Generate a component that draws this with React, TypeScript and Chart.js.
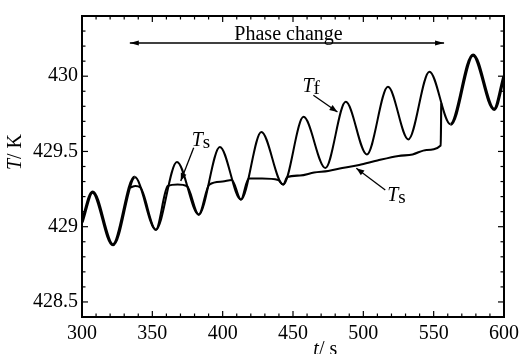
import React, { useEffect, useRef } from 'react';
import { Chart, registerables } from 'chart.js';
Chart.register(...registerables);

// Fluid temperature Tf (peaks and troughs)
const tfTime = [300, 307.5, 322, 337.5, 352.5, 367.5, 383, 398, 413, 427.5, 443, 457.5, 473, 487.5, 502.5, 517.5, 532, 547, 562, 578, 593, 600];
const tfTemp = [429.03, 429.23, 428.88, 429.33, 428.98, 429.43, 429.08, 429.53, 429.18, 429.63, 429.28, 429.73, 429.39, 429.83, 429.48, 429.93, 429.58, 430.03, 429.68, 430.14, 429.78, 430.0];

// Solid temperature Ts during phase change
const tsTime = [334, 338, 341.5, 352.5, 361, 368, 374.5, 383, 390.5, 400, 406.5, 413, 418.5, 428, 439.5, 443, 446, 455, 465, 475, 485, 497, 510, 525, 535, 545, 555, 555.4];
const tsTemp = [429.26, 429.27, 429.26, 428.98, 429.27, 429.28, 429.27, 429.08, 429.28, 429.3, 429.31, 429.18, 429.32, 429.32, 429.31, 429.28, 429.33, 429.34, 429.36, 429.37, 429.39, 429.41, 429.44, 429.47, 429.48, 429.51, 429.54, 429.82];

const xTickValues = [300, 350, 400, 450, 500, 550, 600];
const yTickValues = [428.5, 429, 429.5, 430];

const SERIF = '"Liberation Serif", "DejaVu Serif", serif';

function arrowHead(ctx: CanvasRenderingContext2D, x1: number, y1: number, x2: number, y2: number, len: number, hw: number) {
  const a = Math.atan2(y2 - y1, x2 - x1);
  const bx = x2 - len * Math.cos(a);
  const by = y2 - len * Math.sin(a);
  const px = -Math.sin(a) * hw;
  const py = Math.cos(a) * hw;
  ctx.beginPath();
  ctx.moveTo(x2, y2);
  ctx.lineTo(bx + px, by + py);
  ctx.lineTo(bx - px, by - py);
  ctx.closePath();
  ctx.fill();
}

function line(ctx: CanvasRenderingContext2D, x1: number, y1: number, x2: number, y2: number) {
  ctx.beginPath();
  ctx.moveTo(x1, y1);
  ctx.lineTo(x2, y2);
  ctx.stroke();
}

function subLabel(ctx: CanvasRenderingContext2D, x: number, y: number, main: string, sub: string) {
  ctx.textAlign = 'left';
  ctx.textBaseline = 'alphabetic';
  ctx.font = `italic 20px ${SERIF}`;
  ctx.fillText(main, x, y);
  const w = ctx.measureText(main).width;
  ctx.font = `19px ${SERIF}`;
  ctx.fillText(sub, x + w, y + 2);
}

const decorPlugin = {
  id: 'decor',
  afterDraw(chart: any) {
    const ctx: CanvasRenderingContext2D = chart.ctx;
    const xs = chart.scales.x;
    const ys = chart.scales.y;
    const { left, right, top, bottom } = chart.chartArea;
    ctx.save();
    ctx.strokeStyle = '#000';
    ctx.fillStyle = '#000';
    // frame
    ctx.lineWidth = 2;
    ctx.strokeRect(left, top, right - left, bottom - top);
    // inward ticks on all sides
    ctx.lineWidth = 1.2;
    for (let v = 300; v <= 600; v += 10) {
      const x = xs.getPixelForValue(v);
      const len = v % 50 === 0 ? 6 : 3.5;
      line(ctx, x, bottom, x, bottom - len);
      line(ctx, x, top, x, top + len);
    }
    for (let i = 0; i <= 20; i++) {
      const v = 428.4 + i * 0.1;
      const y = ys.getPixelForValue(v);
      const major = Math.abs(v * 2 - Math.round(v * 2)) < 1e-6;
      const len = major ? 6 : 3.5;
      line(ctx, left, y, left + len, y);
      line(ctx, right, y, right - len, y);
    }
    // Phase change arrow
    ctx.lineWidth = 1.6;
    const pa1 = xs.getPixelForValue(334);
    const pa2 = xs.getPixelForValue(557.4);
    const pay = ys.getPixelForValue(430.221);
    line(ctx, pa1, pay, pa2, pay);
    arrowHead(ctx, pa2, pay, pa1, pay, 9, 2.5);
    arrowHead(ctx, pa1, pay, pa2, pay, 9, 2.5);
    ctx.font = `20px ${SERIF}`;
    ctx.textAlign = 'center';
    ctx.textBaseline = 'alphabetic';
    ctx.fillText('Phase change', xs.getPixelForValue(446.8), ys.getPixelForValue(430.24));

    // Tf label
    subLabel(ctx, xs.getPixelForValue(456.7), ys.getPixelForValue(429.893), 'T', 'f');
    ctx.lineWidth = 1.3;
    let ax1 = xs.getPixelForValue(464.5), ay1 = ys.getPixelForValue(429.873);
    let ax2 = xs.getPixelForValue(481.6), ay2 = ys.getPixelForValue(429.762);
    line(ctx, ax1, ay1, ax2, ay2);
    arrowHead(ctx, ax1, ay1, ax2, ay2, 8, 3);

    // Ts label 1
    subLabel(ctx, xs.getPixelForValue(378.0), ys.getPixelForValue(429.538), 'T', 's');
    ax1 = xs.getPixelForValue(379.4); ay1 = ys.getPixelForValue(429.525);
    ax2 = xs.getPixelForValue(370.2); ay2 = ys.getPixelForValue(429.303);
    line(ctx, ax1, ay1, ax2, ay2);
    arrowHead(ctx, ax1, ay1, ax2, ay2, 8, 3);

    // Ts label 2
    subLabel(ctx, xs.getPixelForValue(517.0), ys.getPixelForValue(429.172), 'T', 's');
    ax1 = xs.getPixelForValue(515.6); ay1 = ys.getPixelForValue(429.244);
    ax2 = xs.getPixelForValue(495.0); ay2 = ys.getPixelForValue(429.389);
    line(ctx, ax1, ay1, ax2, ay2);
    arrowHead(ctx, ax1, ay1, ax2, ay2, 8, 3);

    // axis titles
    ctx.save();
    ctx.translate(21, 152);
    ctx.rotate(-Math.PI / 2);
    ctx.textBaseline = 'alphabetic';
    ctx.textAlign = 'left';
    ctx.font = `italic 20px ${SERIF}`;
    const tw = ctx.measureText('T').width;
    ctx.font = `20px ${SERIF}`;
    const rw = ctx.measureText('/ K').width;
    const start = -(tw + rw) / 2;
    ctx.font = `italic 20px ${SERIF}`;
    ctx.fillText('T', start, 0);
    ctx.font = `20px ${SERIF}`;
    ctx.fillText('/ K', start + tw, 0);
    ctx.restore();

    ctx.textAlign = 'left';
    ctx.font = `italic 20px ${SERIF}`;
    const xt = xs.getPixelForValue(473);
    ctx.fillText('t', xt - 12, 355);
    const ttw = ctx.measureText('t').width;
    ctx.font = `20px ${SERIF}`;
    ctx.fillText('/ s', xt - 12 + ttw, 355);

    ctx.restore();
  },
};

export default function App() {
  const ref = useRef<HTMLCanvasElement | null>(null);
  useEffect(() => {
    if (!ref.current) return;
    const tf = tfTime.map((t, i) => ({ x: t, y: tfTemp[i] }));
    const ts = tsTime.map((t, i) => ({ x: t, y: tsTemp[i] }));
    const chart = new Chart(ref.current, {
      type: 'line',
      data: {
        datasets: [
          {
            label: 'Tf',
            data: tf,
            borderColor: '#000',
            borderWidth: 2,
            pointRadius: 0,
            fill: false,
            cubicInterpolationMode: 'monotone',
            segment: {
              borderWidth: (c: any) => (c.p0.parsed.x < 335 || c.p0.parsed.x >= 555 ? 3.2 : 2),
            },
          },
          {
            label: 'Ts',
            data: ts,
            borderColor: '#000',
            borderWidth: 2.1,
            pointRadius: 0,
            fill: false,
            cubicInterpolationMode: 'monotone',
          },
        ],
      } as any,
      options: {
        animation: false,
        responsive: false,
        events: [],
        layout: { padding: { top: 14, right: 19, left: 0, bottom: 0 } },
        plugins: { legend: { display: false }, tooltip: { enabled: false } },
        scales: {
          x: {
            type: 'linear',
            min: 300,
            max: 600,
            afterBuildTicks: (s: any) => {
              s.ticks = xTickValues.map((v) => ({ value: v }));
            },
            afterFit: (s: any) => {
              s.height = 37;
            },
            ticks: {
              autoSkip: false,
              maxRotation: 0,
              padding: 5,
              color: '#000',
              font: { family: SERIF, size: 20 },
              callback: (v: any) => String(v),
            },
            grid: { display: false, drawTicks: false },
            border: { display: false },
          },
          y: {
            type: 'linear',
            min: 428.4,
            max: 430.4,
            afterBuildTicks: (s: any) => {
              s.ticks = yTickValues.map((v) => ({ value: v }));
            },
            afterFit: (s: any) => {
              s.width = 82;
            },
            ticks: {
              padding: 4,
              color: '#000',
              font: { family: SERIF, size: 20 },
              callback: (v: any) => String(v),
            },
            grid: { display: false, drawTicks: false },
            border: { display: false },
          },
        },
      } as any,
      plugins: [decorPlugin],
    });
    return () => chart.destroy();
  }, []);
  return (
    <div style={{ position: 'fixed', left: 0, top: 0, width: 524, height: 354, background: '#fff' }}>
      <canvas ref={ref} width={524} height={354} style={{ display: 'block' }} />
    </div>
  );
}
